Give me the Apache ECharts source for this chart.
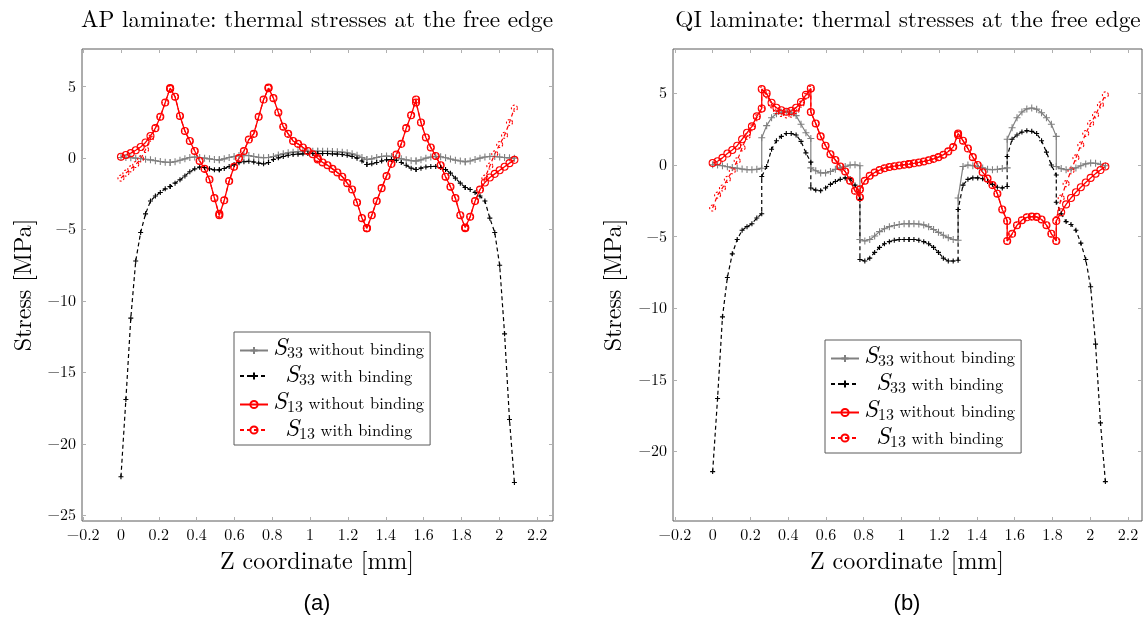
<!DOCTYPE html>
<html>
<head>
<meta charset="utf-8">
<title>Thermal stresses at the free edge</title>
<script src="https://cdn.jsdelivr.net/npm/echarts@6/dist/echarts.min.js"></script>
<style>
  html, body { margin: 0; padding: 0; background: #fff; }
  #chart { width: 1148px; height: 621px; }
</style>
</head>
<body>
<div id="chart"></div>
<script>
// Through-thickness nodes: 8 plies of 0.26 mm, 11 nodes per ply (interfaces repeated)
const zNodes = [
  0, 0.026, 0.052, 0.078, 0.104, 0.13, 0.156, 0.182, 0.208, 0.234, 0.26,
  0.26, 0.286, 0.312, 0.338, 0.364, 0.39, 0.416, 0.442, 0.468, 0.494, 0.52,
  0.52, 0.546, 0.572, 0.598, 0.624, 0.65, 0.676, 0.702, 0.728, 0.754, 0.78,
  0.78, 0.806, 0.832, 0.858, 0.884, 0.91, 0.936, 0.962, 0.988, 1.014, 1.04,
  1.04, 1.066, 1.092, 1.118, 1.144, 1.17, 1.196, 1.222, 1.248, 1.274, 1.3,
  1.3, 1.326, 1.352, 1.378, 1.404, 1.43, 1.456, 1.482, 1.508, 1.534, 1.56,
  1.56, 1.586, 1.612, 1.638, 1.664, 1.69, 1.716, 1.742, 1.768, 1.794, 1.82,
  1.82, 1.846, 1.872, 1.898, 1.924, 1.95, 1.976, 2.002, 2.028, 2.054, 2.08
];

// AP laminate, stresses in MPa at each node
const s33FreeAP = [
  0.05, 0.05, 0.03, 0, -0.03, -0.08, -0.12, -0.18, -0.24, -0.28, -0.3,
  -0.3, -0.25, -0.15, -0.05, 0.05, 0.08, 0.05, 0, -0.05, -0.1, -0.12,
  -0.12, -0.05, 0.05, 0.12, 0.18, 0.2, 0.18, 0.12, 0.06, 0.03, 0.05,
  0.05, 0.12, 0.22, 0.3, 0.37, 0.42, 0.45, 0.47, 0.48, 0.48, 0.48,
  0.48, 0.48, 0.48, 0.47, 0.45, 0.42, 0.37, 0.3, 0.2, 0.05, -0.1,
  -0.1, -0.05, 0.05, 0.12, 0.15, 0.12, 0.05, -0.05, -0.12, -0.18, -0.2,
  -0.2, -0.12, 0, 0.08, 0.12, 0.1, 0.03, -0.06, -0.14, -0.2, -0.25,
  -0.25, -0.2, -0.1, 0, 0.08, 0.12, 0.12, 0.08, 0.04, 0.02, 0
];
const s33BindAP = [
  -22.3, -16.9, -11.2, -7.2, -5.2, -3.9, -3.0, -2.65, -2.4, -2.15, -1.98,
  -1.98, -1.75, -1.52, -1.25, -0.95, -0.75, -0.63, -0.65, -0.75, -0.82, -0.82,
  -0.82, -0.72, -0.58, -0.45, -0.32, -0.25, -0.22, -0.27, -0.35, -0.4, -0.3,
  -0.3, -0.1, 0.02, 0.12, 0.2, 0.25, 0.28, 0.3, 0.32, 0.32, 0.32,
  0.32, 0.32, 0.32, 0.3, 0.28, 0.25, 0.2, 0.12, 0, -0.2, -0.45,
  -0.45, -0.4, -0.3, -0.2, -0.12, -0.1, -0.15, -0.3, -0.5, -0.7, -0.8,
  -0.8, -0.7, -0.62, -0.58, -0.58, -0.65, -0.8, -1.05, -1.4, -1.75, -2.05,
  -2.05, -2.2, -2.4, -2.65, -3.0, -4.2, -5.2, -7.5, -12.3, -18.3, -22.7
];
const s13FreeAP = [
  0.1, 0.22, 0.35, 0.55, 0.78, 1.1, 1.55, 2.1, 2.9, 3.9, 4.9,
  4.85, 4.3, 2.95, 1.9, 1.2, 0.5, -0.2, -0.75, -1.5, -2.8, -4.0,
  -3.9, -2.95, -1.6, -0.6, 0.0, 0.5, 1.3, 1.7, 2.9, 4.1, 4.9,
  4.95, 4.2, 3.2, 2.2, 1.7, 1.2, 1.0, 0.75, 0.5, 0.27, 0.0,
  -0.1, -0.3, -0.5, -0.75, -1.0, -1.3, -1.75, -2.2, -3.1, -4.2, -4.9,
  -4.9, -4.0, -3.0, -2.1, -1.25, -0.4, 0.25, 1.0, 2.1, 3.0, 4.1,
  3.9, 2.5, 1.45, 0.75, 0.15, -0.5, -1.3, -2.0, -2.8, -4.0, -4.85,
  -4.9, -4.1, -3.0, -2.2, -1.7, -1.35, -1.1, -0.85, -0.6, -0.35, -0.12
];
const s13BindAP = [
  -1.4, -1.05, -0.75, -0.45, -0.05, 0.6, 1.4, 2.1, 2.9, 3.9, 4.9,
  4.85, 4.3, 2.95, 1.9, 1.2, 0.5, -0.2, -0.75, -1.5, -2.8, -4.0,
  -3.9, -2.95, -1.6, -0.6, 0.0, 0.5, 1.3, 1.7, 2.9, 4.1, 4.9,
  4.95, 4.2, 3.2, 2.2, 1.7, 1.2, 1.0, 0.75, 0.5, 0.27, 0.0,
  -0.1, -0.3, -0.5, -0.75, -1.0, -1.3, -1.75, -2.2, -3.1, -4.2, -4.9,
  -4.9, -4.0, -3.0, -2.1, -1.25, -0.4, 0.25, 1.0, 2.1, 3.0, 4.1,
  3.9, 2.5, 1.45, 0.75, 0.15, -0.5, -1.3, -2.0, -2.8, -4.0, -4.85,
  -4.9, -4.1, -3.0, -2.2, -1.4, -0.55, 0.3, 0.95, 1.6, 2.5, 3.5
];

// QI laminate, stresses in MPa at each node
const s33FreeQI = [
  0.02, 0, -0.05, -0.12, -0.18, -0.22, -0.28, -0.32, -0.33, -0.3, -0.22,
  1.9, 2.75, 3.3, 3.58, 3.68, 3.72, 3.65, 3.45, 2.85, 2.25, 1.85,
  -0.2, -0.4, -0.55, -0.55, -0.45, -0.3, -0.2, -0.1, 0, 0.02, -0.05,
  -5.2, -5.3, -5.2, -4.95, -4.65, -4.45, -4.3, -4.22, -4.15, -4.1, -4.1,
  -4.1, -4.1, -4.12, -4.18, -4.3, -4.5, -4.7, -4.9, -5.07, -5.2, -5.25,
  -2.3, -0.1, 0, -0.05, -0.1, -0.2, -0.3, -0.33, -0.3, -0.25, -0.2,
  1.8, 2.6, 3.3, 3.7, 3.92, 3.98, 3.9, 3.65, 3.3, 2.85, 2.0,
  -0.1, -0.25, -0.33, -0.3, -0.2, -0.05, 0.08, 0.14, 0.12, 0.05, -0.05
];
const s33BindQI = [
  -21.4, -16.3, -10.6, -7.85, -6.2, -5.2, -4.55, -4.3, -4.1, -3.7, -3.4,
  -0.8, -0.1, 1.1, 1.7, 2.0, 2.2, 2.2, 2.1, 1.65, 0.85, 0.2,
  -1.6, -1.75, -1.8, -1.6, -1.35, -1.15, -1.0, -0.9, -0.95, -1.4, -2.4,
  -6.6, -6.7, -6.5, -6.1, -5.75, -5.5, -5.35, -5.25, -5.2, -5.2, -5.2,
  -5.2, -5.2, -5.25, -5.35, -5.5, -5.75, -6.1, -6.5, -6.7, -6.7, -6.65,
  -3.1, -1.4, -1.0, -0.9, -0.9, -0.95, -1.15, -1.35, -1.55, -1.6, -1.5,
  0.6, 1.8, 2.1, 2.3, 2.4, 2.35, 2.2, 1.7, 0.9, 0.0, -0.7,
  -2.6, -3.4, -3.95, -4.15, -4.55, -5.45, -6.6, -8.5, -12.5, -18.0, -22.1
];
const s13FreeQI = [
  0.14, 0.26, 0.5, 0.8, 1.05, 1.35, 1.8, 2.25, 2.7, 3.4, 3.95,
  5.3, 5.0, 4.35, 4.0, 3.82, 3.72, 3.78, 4.0, 4.4, 4.9, 5.35,
  3.7, 2.9, 2.0, 1.35, 0.75, 0.35, -0.1, -0.45, -1.1, -1.8, -2.25,
  -1.7, -1.1, -0.75, -0.52, -0.35, -0.22, -0.14, -0.08, -0.03, 0.02, 0.06,
  0.06, 0.12, 0.18, 0.25, 0.33, 0.43, 0.55, 0.72, 0.95, 1.25, 2.2,
  2.1, 1.7, 1.15, 0.55, 0.0, -0.5, -0.95, -1.4, -2.0, -3.1, -3.9,
  -5.3, -4.8, -4.2, -3.85, -3.65, -3.6, -3.62, -3.8, -4.2, -4.8, -5.3,
  -3.9, -3.3, -2.75, -2.3, -1.9, -1.55, -1.22, -0.9, -0.6, -0.35, -0.1
];
const s13BindQI = [
  -3.0, -2.1, -1.6, -1.0, -0.4, 0.3, 1.2, 2.0, 2.6, 3.3, 3.9,
  5.25, 4.9, 4.2, 3.8, 3.6, 3.5, 3.55, 3.8, 4.25, 4.8, 5.3,
  3.7, 2.9, 2.0, 1.35, 0.75, 0.35, -0.1, -0.45, -1.1, -1.8, -2.25,
  -1.7, -1.1, -0.75, -0.52, -0.35, -0.22, -0.14, -0.08, -0.03, 0.02, 0.06,
  0.06, 0.12, 0.18, 0.25, 0.33, 0.43, 0.55, 0.72, 0.95, 1.25, 2.2,
  2.1, 1.7, 1.15, 0.55, 0.0, -0.5, -0.95, -1.4, -2.0, -3.1, -3.9,
  -5.3, -4.8, -4.2, -3.85, -3.65, -3.6, -3.62, -3.8, -4.2, -4.8, -5.3,
  -3.8, -2.3, -1.3, -0.4, 0.5, 1.4, 2.2, 2.9, 3.5, 4.2, 4.9
];

// Tick labels
const xTicks = [-0.2, 0, 0.2, 0.4, 0.6, 0.8, 1, 1.2, 1.4, 1.6, 1.8, 2, 2.2];
const yTicksAP = [-25, -20, -15, -10, -5, 0, 5];
const yTicksQI = [-20, -15, -10, -5, 0, 5];

const seriesNames = ['S33 without binding', 'S33 with binding', 'S13 without binding', 'S13 with binding'];
const panelTitles = ['AP laminate: thermal stresses at the free edge', 'QI laminate: thermal stresses at the free edge'];
const panelTags = ['(a)', '(b)'];

const SERIF = '"Latin Modern Roman", "CMU Serif", "Liberation Serif", serif';
const GRAY = '#808080';
const RED = '#ff0000';
const PLUS = 'path://M5,0L5,10M0,5L10,5';

const pairs = ys => zNodes.map((z, i) => [z, ys[i]]);
const minus = v => String(v).replace('-', '\u2212');

function seriesFor(panel, data) {
  const ax = panel * 2;
  const common = {
    type: 'line', xAxisIndex: ax, yAxisIndex: ax, showAllSymbol: true,
    animation: false, silent: true, emphasis: { disabled: true }
  };
  return [
    Object.assign({}, common, {
      name: seriesNames[0], data: pairs(data[0]),
      symbol: PLUS, symbolSize: 7,
      lineStyle: { color: GRAY, width: 1.2 },
      itemStyle: { color: GRAY, borderColor: GRAY, borderWidth: 1.1 }
    }),
    Object.assign({}, common, {
      name: seriesNames[1], data: pairs(data[1]),
      symbol: PLUS, symbolSize: 5,
      lineStyle: { color: '#000', width: 1.2, type: [4, 3] },
      itemStyle: { color: '#000', borderColor: '#000', borderWidth: 1.1 }
    }),
    Object.assign({}, common, {
      name: seriesNames[2], data: pairs(data[2]),
      symbol: 'circle', symbolSize: 7,
      lineStyle: { color: RED, width: 1.3 },
      itemStyle: { color: 'rgba(255,255,255,0)', borderColor: RED, borderWidth: 1.1 }
    }),
    Object.assign({}, common, {
      name: seriesNames[3], data: pairs(data[3]),
      symbol: 'circle', symbolSize: 6,
      lineStyle: { color: RED, width: 1.2, type: [4, 3] },
      itemStyle: { color: 'rgba(255,255,255,0)', borderColor: RED, borderWidth: 1.1, borderType: [2, 2] }
    })
  ];
}

function xAxesFor(gridIndex, min, max) {
  const base = {
    type: 'value', gridIndex, min, max,
    axisLine: { show: false, onZero: false }, splitLine: { show: false },
    axisTick: { inside: true, length: 4, customValues: xTicks, lineStyle: { color: '#b0b0b0' } }
  };
  return [
    Object.assign({}, base, {
      position: 'bottom',
      axisLabel: { customValues: xTicks, formatter: minus, margin: 6, color: '#000', fontFamily: SERIF, fontSize: 16 }
    }),
    Object.assign({}, base, { position: 'top', axisLabel: { show: false } })
  ];
}

function yAxesFor(gridIndex, min, max, ticks) {
  const base = {
    type: 'value', gridIndex, min, max,
    axisLine: { show: false, onZero: false }, splitLine: { show: false },
    axisTick: { inside: true, length: 4, customValues: ticks, lineStyle: { color: '#b0b0b0' } }
  };
  return [
    Object.assign({}, base, {
      position: 'left',
      axisLabel: { customValues: ticks, formatter: minus, margin: 6, color: '#000', fontFamily: SERIF, fontSize: 16 }
    }),
    Object.assign({}, base, { position: 'right', axisLabel: { show: false } })
  ];
}

function legendFor(left, top) {
  return {
    data: seriesNames, orient: 'vertical', left, top,
    backgroundColor: '#fff', borderColor: '#5a5a5a', borderWidth: 1, borderRadius: 0,
    padding: [3, 6, 3, 5], itemGap: 1, itemWidth: 28, itemHeight: 9,
    selectedMode: false,
    formatter: name => {
      const parts = name.split(' ');
      const sub = parts[0].slice(1);
      const rest = parts.slice(1).join(' ');
      const pad = rest.startsWith('with ') ? '{pad|}' : '';
      return pad + '{s|S}{sub|' + sub + '}{t| ' + rest + '}';
    },
    textStyle: {
      color: '#000', lineHeight: 22,
      rich: {
        pad: { width: 12, height: 14 },
        s: { fontFamily: SERIF, fontStyle: 'italic', fontSize: 25, height: 19, lineHeight: 19, padding: [0, 0, 3, 0], verticalAlign: 'bottom' },
        sub: { fontFamily: SERIF, fontSize: 16, height: 14, lineHeight: 14, verticalAlign: 'bottom' },
        t: { fontFamily: SERIF, fontSize: 16.5, height: 15, lineHeight: 15, padding: [0, 0, 3, 0], verticalAlign: 'bottom' }
      }
    }
  };
}

function label(text, x, y, font, rotation) {
  return {
    type: 'text', x, y, rotation: rotation || 0, silent: true,
    style: { text, font, fill: '#000', textAlign: 'center', textVerticalAlign: 'middle' }
  };
}

const chart = echarts.init(document.getElementById('chart'), null, { renderer: 'canvas' });

chart.setOption({
  animation: false,
  backgroundColor: '#fff',
  grid: [
    { left: 82, top: 49, width: 471, height: 472, show: true, borderColor: '#5a5a5a', borderWidth: 1, backgroundColor: 'transparent' },
    { left: 673, top: 49, width: 469, height: 472, show: true, borderColor: '#5a5a5a', borderWidth: 1, backgroundColor: 'transparent' }
  ],
  xAxis: [...xAxesFor(0, -0.206, 2.284), ...xAxesFor(1, -0.21, 2.274)],
  yAxis: [...yAxesFor(0, -25.4, 7.64, yTicksAP), ...yAxesFor(1, -24.85, 8.1, yTicksQI)],
  legend: [legendFor(234, 332), legendFor(825, 340)],
  series: [
    ...seriesFor(0, [s33FreeAP, s33BindAP, s13FreeAP, s13BindAP]),
    ...seriesFor(1, [s33FreeQI, s33BindQI, s13FreeQI, s13BindQI])
  ],
  graphic: [
    label(panelTitles[0], 317, 20, '23.3px ' + SERIF),
    label(panelTitles[1], 908, 20, '23.3px ' + SERIF),
    label('Z coordinate [mm]', 317, 562, '24px ' + SERIF),
    label('Z coordinate [mm]', 907, 562, '24px ' + SERIF),
    label('Stress [MPa]', 24, 285, '24px ' + SERIF, Math.PI / 2),
    label('Stress [MPa]', 614, 285, '24px ' + SERIF, Math.PI / 2),
    label(panelTags[0], 317, 604, '22px "Liberation Sans", Arial, sans-serif'),
    label(panelTags[1], 907, 604, '22px "Liberation Sans", Arial, sans-serif')
  ]
});
</script>
</body>
</html>
